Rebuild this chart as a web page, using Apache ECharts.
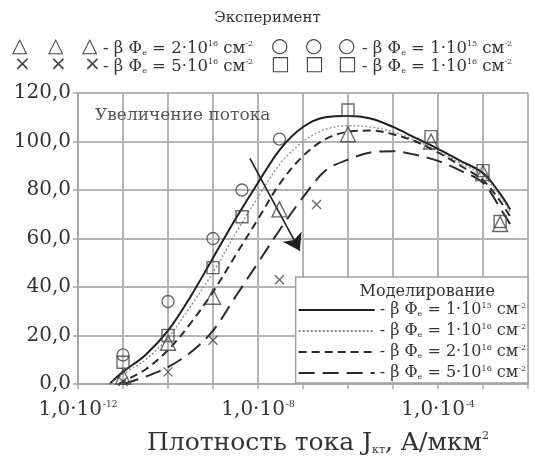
<!DOCTYPE html>
<html><head><meta charset="utf-8">
<script src="https://cdn.jsdelivr.net/npm/echarts@6/dist/echarts.min.js"></script>
<style>html,body{margin:0;padding:0;background:#fff}#c{width:535px;height:463px}</style>
</head><body><div id="c"></div>
<script>
// ---- Experimental data (J, A/мкм²  vs  value) ----
const triX = [1e-11, 1e-10, 1e-9, 3e-8, 1e-6, 7e-5, 1e-3, 2.4e-3];
const triY = [3, 17, 36, 72, 103, 100, 87, 66];
const circX = [1e-11, 1e-10, 1e-9, 4.4e-9, 3e-8];
const circY = [12, 34, 60, 80, 101];
const crossX = [1e-11, 1e-10, 1e-9, 3e-8, 2e-7];
const crossY = [1, 5, 18, 43, 74];
const sqX = [1e-11, 1e-10, 1e-9, 4.4e-9, 1e-6, 7e-5, 1e-3, 2.4e-3];
const sqY = [9, 20, 48, 69, 113, 102, 88, 67];

// ---- Model curves ----
const m1X = [5e-12, 1e-11, 3.16e-11, 1e-10, 3.16e-10, 1e-9, 3.16e-9, 1e-8, 3.16e-8, 1e-7, 3.16e-7, 1e-6, 3.16e-6, 1e-5, 3.16e-5, 1e-4, 3.16e-4, 1e-3, 2.5e-3, 4e-3];
const m1Y = [0, 5, 12, 22, 36, 52, 68, 83, 97, 106, 110, 110.5, 109.5, 106, 101.5, 97, 92, 87, 78, 72];
const m2X = m1X;
const m2Y = [0, 4, 10, 19, 32, 46, 62, 77, 91, 100, 105, 106.5, 106, 104, 100.5, 96, 91, 86, 77, 71];
const m3X = [8e-12, 1e-11, 3.16e-11, 1e-10, 3.16e-10, 1e-9, 3.16e-9, 1e-8, 3.16e-8, 1e-7, 3.16e-7, 1e-6, 3.16e-6, 1e-5, 3.16e-5, 1e-4, 3.16e-4, 1e-3, 2.5e-3, 4e-3];
const m3Y = [0, 1, 6, 14, 25, 38, 53, 68, 83, 94, 101, 104, 104.5, 103, 100, 95.5, 90, 84, 75, 69];
const m4X = [1e-11, 3.16e-11, 1e-10, 3.16e-10, 1e-9, 3.16e-9, 1e-8, 3.16e-8, 1e-7, 3.16e-7, 1e-6, 3.16e-6, 1e-5, 3.16e-5, 1e-4, 3.16e-4, 1e-3, 2.5e-3, 4e-3];
const m4Y = [0, 3, 7, 13, 22, 36, 50, 64, 77, 88, 92.5, 95.5, 96, 94.5, 92, 88, 83, 72, 66];

// ---- Arrow annotation (data coords) ----
const arrowFrom = [6.6e-9, 93];
const arrowTo = [8.5e-8, 55];

// ---- Texts ----
const yTicks = [0, 20, 40, 60, 80, 100, 120];
const xLabelExps = [-12, -8, -4];
const modelNames = ['m1', 'm2', 'm3', 'm4'];
const modelLabels = {
  m1: '- β Φ{sub|е} = 1·10{sup|15} см{sup|-2}',
  m2: '- β Φ{sub|е} = 1·10{sup|16} см{sup|-2}',
  m3: '- β Φ{sub|е} = 2·10{sup|16} см{sup|-2}',
  m4: '- β Φ{sub|е} = 5·10{sup|16} см{sup|-2}'
};
const expLabels = {
  tri: '- β Φ{sub|е} = 2·10{sup|16} см{sup|-2}',
  circ: '- β Φ{sub|е} = 1·10{sup|15} см{sup|-2}',
  cross: '- β Φ{sub|е} = 5·10{sup|16} см{sup|-2}',
  sq: '- β Φ{sub|е} = 1·10{sup|16} см{sup|-2}'
};

const zip = (a, b) => a.map((v, i) => [v, b[i]]);
const SERIF = 'DejaVu Serif';
const TXT = '#333';

const chart = echarts.init(document.getElementById('c'), null, {renderer: 'canvas'});
const mk = '#444';
const scat = (name, data, symbol, size) => ({
  name, type: 'scatter', data, symbol, symbolSize: size,
  itemStyle: {color: 'rgba(255,255,255,0)', borderColor: mk, borderWidth: 1.4},
  z: 5
});
const line = (name, data, color, width, type) => ({
  name, type: 'line', data, smooth: 0.35, symbol: 'none', showSymbol: false,
  lineStyle: {color, width, type}, itemStyle: {color}, z: 4
});

const legendSym = (txt, x, y) => ({type: 'text', left: x, top: y, z: 100,
  style: {text: txt, font: '20px "DejaVu Sans"', fill: '#444'}});
const legendTxt = (txt, x, y) => ({type: 'text', left: x, top: y, z: 100,
  style: {text: txt, font: '16.5px "' + SERIF + '"', fill: TXT, rich: {
    sub: {fontSize: 8, fontFamily: SERIF, fill: TXT, verticalAlign: 'bottom'},
    sup: {fontSize: 8, fontFamily: SERIF, fill: TXT, verticalAlign: 'top'}}}});

const modelSeries = [
  line('m1', zip(m1X, m1Y), '#1e1e1e', 2, 'solid'),
  line('m2', zip(m2X, m2Y), '#8a8a8a', 1.3, [2, 2]),
  line('m3', zip(m3X, m3Y), '#2a2a2a', 2, [8, 5]),
  line('m4', zip(m4X, m4Y), '#2a2a2a', 2, [16, 8])
];
modelSeries[0].markLine = {
  silent: true, symbol: ['none', 'arrow'], symbolSize: 16,
  label: {show: false},
  lineStyle: {color: '#1e1e1e', width: 1.6, type: 'solid'},
  itemStyle: {color: '#1e1e1e'},
  data: [[{coord: arrowFrom}, {coord: arrowTo}]]
};

chart.setOption({
  animation: false,
  backgroundColor: '#fff',
  grid: {left: 78, right: 7, top: 93, bottom: 79, containLabel: false},
  xAxis: {
    type: 'log', logBase: 10, min: 1e-12, max: 1e-2, splitNumber: 5,
    axisLine: {show: true, lineStyle: {color: '#a8a8a8', width: 2}},
    axisTick: {show: true, length: 5, lineStyle: {color: '#a8a8a8', width: 1.5}},
    splitLine: {show: true, lineStyle: {color: '#b4b4b4', width: 2}},
    axisLabel: {
      margin: 16, color: TXT, fontFamily: SERIF, fontSize: 20,
      formatter: v => {
        const e = Math.round(Math.log10(v));
        return xLabelExps.includes(e) ? '{a|1,0·10}{s|' + e + '}' : '';
      },
      rich: {
        a: {fontSize: 20, fontFamily: SERIF, color: TXT},
        s: {fontSize: 9, fontFamily: SERIF, color: TXT, verticalAlign: 'top', padding: [0, 0, 10, 1]}
      }
    },
    name: '{a|Плотность тока J}{b|кт}{a|, A/мкм}{c|2}',
    nameLocation: 'middle', nameGap: 47,
    nameTextStyle: {
      padding: [0, 0, 0, 30],
      rich: {
        a: {fontSize: 25, fontFamily: SERIF, color: TXT},
        b: {fontSize: 11, fontFamily: SERIF, color: TXT, verticalAlign: 'bottom', padding: [12, 0, 0, 0]},
        c: {fontSize: 11, fontFamily: SERIF, color: TXT, verticalAlign: 'top', padding: [0, 0, 12, 0]}
      }
    }
  },
  yAxis: {
    type: 'value', min: 0, max: 120, interval: 20,
    axisLine: {show: true, lineStyle: {color: '#a8a8a8', width: 2}},
    axisTick: {show: true, length: 5, lineStyle: {color: '#a8a8a8', width: 1.5}},
    splitLine: {show: true, lineStyle: {color: '#b4b4b4', width: 2}},
    axisLabel: {margin: 7, color: TXT, fontFamily: SERIF, fontSize: 20,
      formatter: v => yTicks.includes(v) ? v.toFixed(1).replace('.', ',') : ''}
  },
  legend: {
    data: modelNames, orient: 'vertical', right: 7, bottom: 80,
    itemWidth: 76, itemHeight: 14, itemGap: 5,
    backgroundColor: '#fff', borderColor: '#a0a0a0', borderWidth: 1.5,
    padding: [25, 2, 2, 2], selectedMode: false,
    itemStyle: {opacity: 0},
    formatter: n => modelLabels[n],
    textStyle: {fontFamily: SERIF, fontSize: 16, color: TXT, rich: {
      sub: {fontSize: 8, fontFamily: SERIF, color: TXT, verticalAlign: 'bottom'},
      sup: {fontSize: 8, fontFamily: SERIF, color: TXT, verticalAlign: 'top'}}}
  },
  graphic: [
    {type: 'text', left: 'center', top: 11, z: 100,
      style: {text: 'Эксперимент', font: '15px "' + SERIF + '"', fill: TXT}},
    legendSym('△', 12, 37), legendSym('△', 48, 37), legendSym('△', 82, 37),
    legendTxt(expLabels.tri, 103, 40),
    legendSym('○', 271, 37), legendSym('○', 305, 37), legendSym('○', 338, 37),
    legendTxt(expLabels.circ, 362, 40),
    legendSym('×', 14, 55), legendSym('×', 50, 55), legendSym('×', 84, 55),
    legendTxt(expLabels.cross, 103, 58),
    legendSym('□', 271, 55), legendSym('□', 305, 55), legendSym('□', 338, 55),
    legendTxt(expLabels.sq, 362, 58),
    {type: 'text', left: 95, top: 107, z: 100,
      style: {text: 'Увеличение потока', font: '17px "' + SERIF + '"', fill: '#555'}},
    {type: 'text', right: 40, bottom: 163, z: 100,
      style: {text: 'Моделирование', font: '16px "' + SERIF + '"', fill: TXT}}
  ],
  series: [
    ...modelSeries,
    scat('tri', zip(triX, triY), 'triangle', 15),
    scat('circ', zip(circX, circY), 'circle', 12),
    scat('cross', zip(crossX, crossY), 'path://M0,0L10,10M10,0L0,10', 9),
    scat('sq', zip(sqX, sqY), 'rect', 12)
  ]
});
</script>
</body></html>
